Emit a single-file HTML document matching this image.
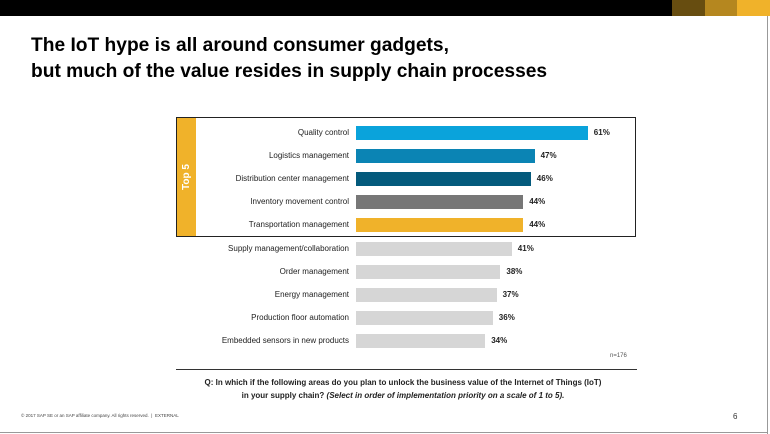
<!DOCTYPE html>
<html><head><meta charset="utf-8"><style>
body{margin:0;width:770px;height:434px;overflow:hidden;background:#fff;font-family:"Liberation Sans",Arial,sans-serif;position:relative}
.abs{position:absolute}
.title{left:31px;top:33px;font-size:19.2px;font-weight:bold;line-height:25.5px;color:#000;white-space:nowrap}
.lbl{position:absolute;font-size:8px;line-height:10px;color:#222;text-align:right;width:180px;white-space:nowrap}
.val{position:absolute;font-size:8px;line-height:10px;font-weight:bold;color:#222}
.bar{position:absolute;height:14px}
</style></head><body>
<div class="abs" style="left:0;top:0;width:672px;height:16px;background:#000"></div>
<div class="abs" style="left:672px;top:0;width:33px;height:16px;background:#674d10"></div>
<div class="abs" style="left:705px;top:0;width:32px;height:16px;background:#b5871f"></div>
<div class="abs" style="left:737px;top:0;width:33px;height:16px;background:#f0b22a"></div>
<div class="abs title">The IoT hype is all around consumer gadgets,<br>but much of the value resides in supply chain processes</div>
<div class="abs" style="left:176px;top:117px;width:460px;height:120px;border:1px solid #222;box-sizing:border-box"></div>
<div class="abs" style="left:177px;top:118px;width:19px;height:118px;background:#f0b22a"></div>
<div class="abs" style="left:162px;top:170px;width:50px;height:14px;transform:rotate(-90deg);color:#fff;font-weight:bold;font-size:10px;text-align:center;line-height:14px">Top 5</div>
<div id="chart"></div>
<div class="abs" style="left:610px;top:353px;font-size:6px;color:#555">n=176</div>
<div class="abs" style="left:176px;top:369px;width:461px;height:1px;background:#333"></div>
<div class="abs" style="left:143px;top:376px;width:520px;text-align:center;font-size:8px;font-weight:bold;line-height:13px;color:#222">Q: In which if the following areas do you plan to unlock the business value of the Internet of Things (IoT)<br>in your supply chain? <i>(Select in order of implementation priority on a scale of 1 to 5).</i></div>
<div class="abs" style="left:21px;top:413px;font-size:4.5px;color:#444">© 2017 SAP SE or an SAP affiliate company. All rights reserved. &nbsp;|&nbsp; EXTERNAL</div>
<div class="abs" style="left:733px;top:412px;font-size:8px;color:#333">6</div>
<div class="abs" style="left:767px;top:16px;width:1px;height:418px;background:#999"></div>
<div class="abs" style="left:0;top:432px;width:768px;height:1px;background:#999"></div>
<script>
const categories=["Quality control","Logistics management","Distribution center management","Inventory movement control","Transportation management","Supply management/collaboration","Order management","Energy management","Production floor automation","Embedded sensors in new products"];
const values=[61,47,46,44,44,41,38,37,36,34];
const colors=["#0aa3db","#0b84b4","#045a7c","#777777","#f0b22a","#d6d6d6","#d6d6d6","#d6d6d6","#d6d6d6","#d6d6d6"];
const x0=356,pxPer=3.8,y0=133,step=23.1;
const xs=v=>v*pxPer, ys=i=>y0+i*step;
const c=document.getElementById('chart');
categories.forEach((cat,i)=>{
 const y=ys(i);
 const l=document.createElement('div');l.className='lbl';l.style.left=(x0-187)+'px';l.style.top=(y-5)+'px';l.textContent=cat;
 
 
 c.appendChild(l);
 const b=document.createElement('div');b.className='bar';b.style.left=x0+'px';b.style.top=(y-7)+'px';b.style.width=xs(values[i])+'px';b.style.background=colors[i];
 
 
 c.appendChild(b);
 const t=document.createElement('div');t.className='val';t.style.left=(x0+xs(values[i])+6)+'px';t.style.top=(y-5)+'px';t.textContent=values[i]+'%';
 
 
 c.appendChild(t);
});
</script>
</body></html>
